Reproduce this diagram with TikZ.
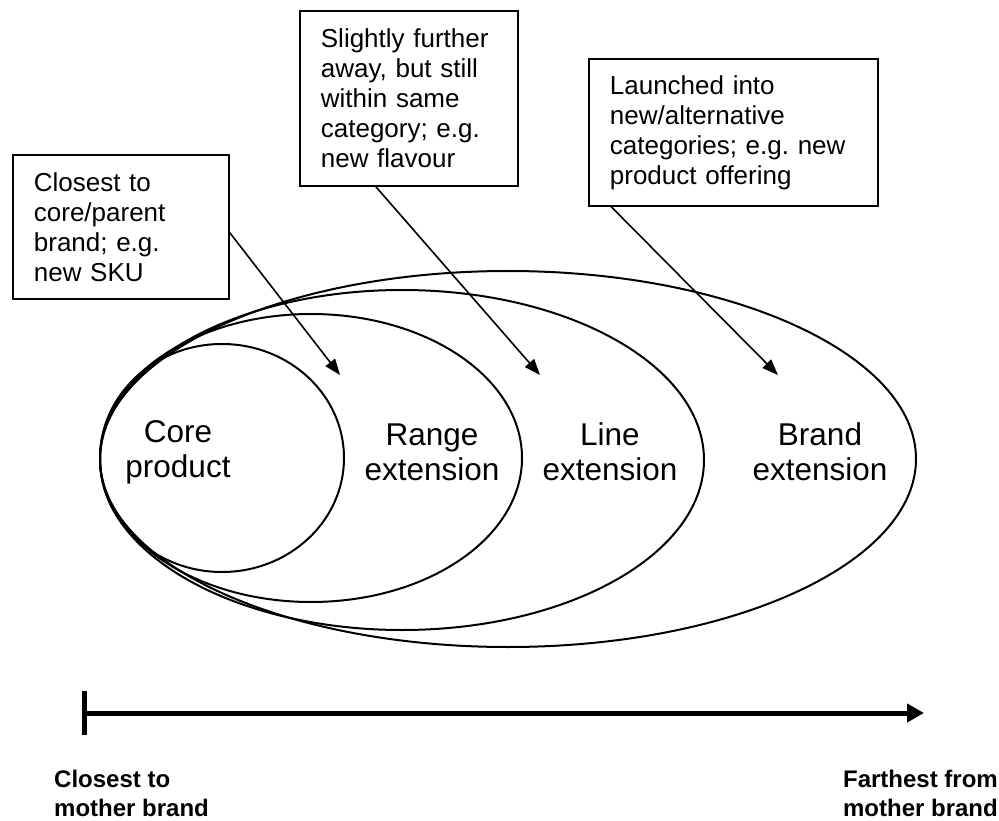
\documentclass[tikz,border=0pt]{standalone}
\usepackage{fontspec}
\setmainfont{Liberation Sans}
\usetikzlibrary{arrows.meta,shapes.geometric,calc}
\frenchspacing
\begin{document}
\begin{tikzpicture}[x=1pt,y=-1pt,
  notebox/.style={draw, line width=1.8pt, anchor=north west, align=left,
    inner xsep=21pt, inner ysep=0pt, font=\fontsize{26pt}{30pt}\selectfont},
  ring/.style={ellipse, draw, line width=2pt, inner sep=0pt, outer sep=0pt},
  ringlabel/.style={align=center, inner sep=0pt, font=\fontsize{31.5pt}{35pt}\selectfont},
  pointer/.style={line width=1.6pt, -{Triangle[length=16pt,width=12pt]}},
  axisline/.style={line width=5pt},
  axislabel/.style={inner sep=0pt, font=\bfseries\fontsize{24pt}{29pt}\selectfont}
]
\useasboundingbox (0,0) rectangle (999,821);

% nested extension ellipses, all touching at the left
\node[ring, minimum width=816pt, minimum height=376pt] (brand) at (508,459) {};
\node[ring, minimum width=604pt, minimum height=340pt] (line)  at (402,460) {};
\node[ring, minimum width=422pt, minimum height=288pt] (range) at (311,458) {};
\node[ring, minimum width=244pt, minimum height=228pt] (core)  at (222,458) {};

\node[ringlabel] (coreT)  at (178,452) {Core\\product};
\node[ringlabel] (rangeT) at (432,452) {Range\\extension};
\node[ringlabel] (lineT)  at (610,452) {Line\\extension};
\node[ringlabel] (brandT) at (820,452) {Brand\\extension};

% explanatory boxes
\node[notebox, text width=174pt, minimum height=144pt] (box1) at (12,154)
  {Closest to\\core/parent\\brand; e.g.\\new SKU};
\node[notebox, text width=176pt, minimum height=175pt] (box2) at (299,10)
  {Slightly further\\away, but still\\within same\\category; e.g.\\new flavour};
\node[notebox, text width=247pt, minimum height=147pt] (box3) at (588,58)
  {Launched into\\new/alternative\\categories; e.g. new\\product offering};

\coordinate (tip1) at (340,375);
\coordinate (tip2) at (540,375);
\coordinate (tip3) at (778,375);
\draw[pointer] ($(box1.south east)!0.46!(box1.north east)$) -- (tip1);
\draw[pointer] ($(box2.south west)!0.35!(box2.south east)$) -- (tip2);
\draw[pointer] ($(box3.south west)!0.08!(box3.south east)$) -- (tip3);

% distance axis
\coordinate (axisL) at (84,713);
\coordinate (axisR) at (924,713);
\coordinate (barT) at (84,691);
\coordinate (barB) at (84,735);
\draw[axisline] (barT) -- (barB);
\draw[axisline, -{Triangle[length=17pt,width=18pt]}] (axisL) -- (axisR);

\node[axislabel, anchor=north west, align=left] (nearL) at (54,770)
  {Closest to\\mother brand};
\node[axislabel, anchor=north east, align=right] (farL) at (998,770)
  {Farthest from\\mother brand};
\end{tikzpicture}
\end{document}
